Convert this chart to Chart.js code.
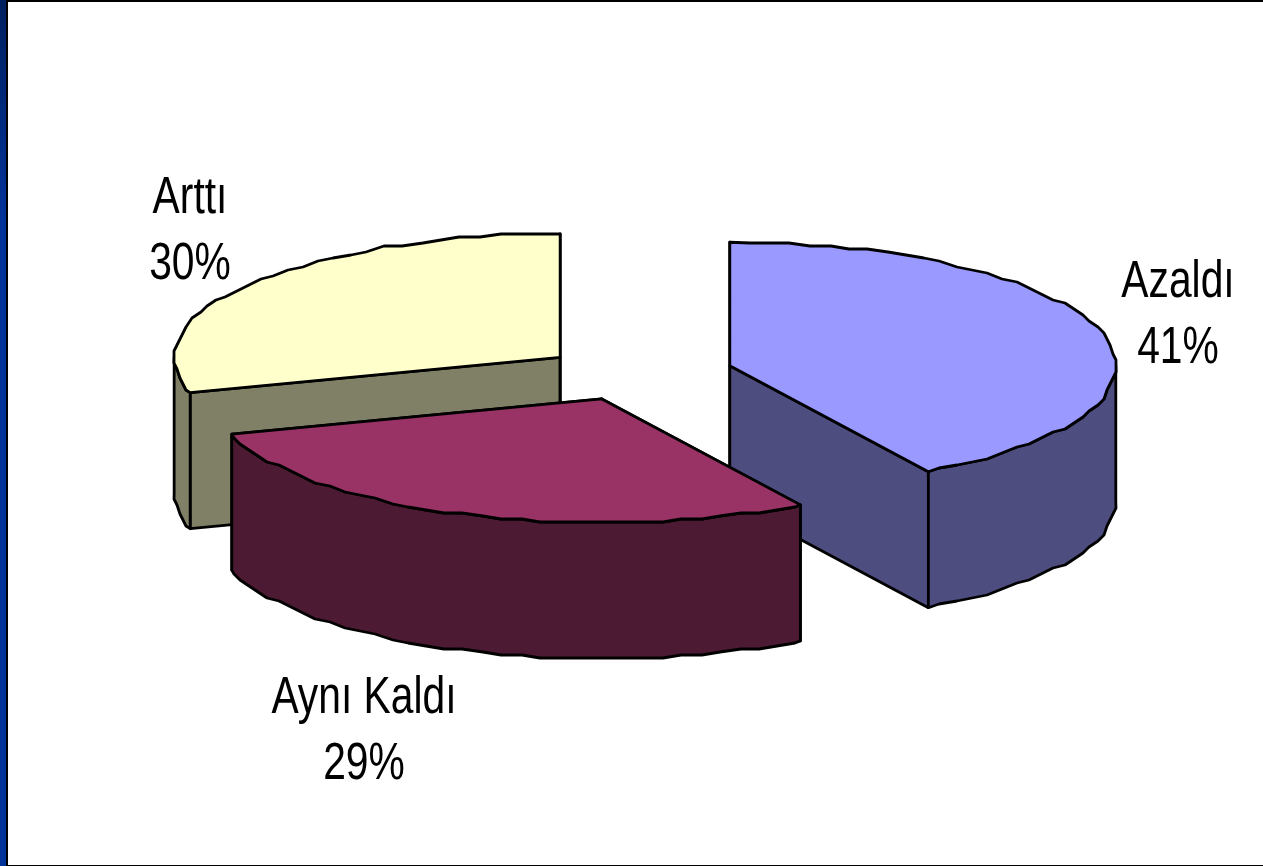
<!DOCTYPE html>
<html>
<head>
<meta charset="utf-8">
<title>Pie</title>
<script src="https://cdn.jsdelivr.net/npm/chart.js@4"></script>
<style>
  html, body { margin: 0; padding: 0; background: #fff; overflow: hidden; }
  #wrap { position: relative; width: 1263px; height: 866px; }
  #chart { position: absolute; left: 0; top: 0; }
  /* slide frame */
  #bar { position: absolute; left: 0; top: 0; width: 6px; height: 866px;
         background: linear-gradient(#00205f, #003399 25%); }
  #edgeL { position: absolute; left: 6px; top: 0; width: 2px; height: 866px; background: #000; }
  #edgeT { position: absolute; left: 6px; top: 0; width: 1257px; height: 2px; background: #000; }
  #edgeB { position: absolute; left: 6px; top: 865px; width: 1257px; height: 1px; background: #000; }
</style>
</head>
<body>
<div id="wrap">
  <canvas id="chart" width="1263" height="866"></canvas>
  <div id="bar"></div><div id="edgeL"></div><div id="edgeT"></div><div id="edgeB"></div>
</div>
<script>
// Data
const categories = ['Azaldı', 'Aynı Kaldı', 'Arttı'];
const percentValues = [41.4, 29, 29.6];
const topColors = ['#9999FF', '#993366', '#FFFFCC'];
const sideColors = ['#4D4D80', '#4D1A33', '#808066'];
const explodeOffsets = [102, 82, 89];

// Fake 3D look
const tilt = 0.32;
const depth = 136;
const paintOrder = [2, 0, 1]; // back slice first

// Label centres and first baselines
const labelX = [1178, 364, 190];
const labelY = [297, 713, 213];
const labelLineGap = 66;

// Outline is coarse in the original, snap it to a small grid
function snap(v) {
  return Math.round(v / 3) * 3;
}

// same angle grid for every call, so top rim and wall line up
function ringPoints(c, r, from, to) {
  const step = Math.PI / 60;
  const angles = [from];
  for (let k = Math.floor(from / step) + 1; k * step < to; k++) {
    angles.push(k * step);
  }
  angles.push(to);
  return angles.map((a, i) => {
    const x = c.x + Math.cos(a) * r;
    const y = c.y + Math.sin(a) * r * tilt;
    if (i === 0 || i === angles.length - 1) {
      return { x, y };
    }
    return { x: snap(x), y: snap(y) };
  });
}

function fillPath(ctx, pts, fill) {
  ctx.beginPath();
  pts.forEach((p, i) => (i ? ctx.lineTo(p.x, p.y) : ctx.moveTo(p.x, p.y)));
  ctx.closePath();
  ctx.fillStyle = fill;
  ctx.fill();
  ctx.stroke();
}

function down(p) {
  return { x: p.x, y: p.y + depth };
}

const pie3d = {
  id: 'pie3d',
  // the library computed the arcs, we only paint them tilted
  beforeDatasetDraw(chart, args) {
    const ctx = chart.ctx;
    ctx.save();
    ctx.strokeStyle = '#000';
    ctx.lineWidth = 2.8;
    ctx.lineJoin = 'round';
    paintOrder.forEach((i) => {
      const arc = args.meta.data[i];
      const start = arc.startAngle;
      const end = arc.endAngle;
      const mid = (start + end) / 2;
      const c = {
        x: arc.x + Math.cos(mid) * explodeOffsets[i],
        y: arc.y + Math.sin(mid) * explodeOffsets[i] * tilt,
      };
      const rim = ringPoints(c, arc.outerRadius, start, end);
      const first = rim[0];
      const last = rim[rim.length - 1];

      // cut faces
      fillPath(ctx, [c, first, down(first), down(c)], sideColors[i]);
      fillPath(ctx, [c, last, down(last), down(c)], sideColors[i]);

      // outer wall, front half only
      const from = Math.max(start, 0);
      const to = Math.min(end, Math.PI);
      if (to > from) {
        const wall = ringPoints(c, arc.outerRadius, from, to);
        fillPath(ctx, wall.concat(wall.map(down).reverse()), sideColors[i]);
      }

      // top face
      fillPath(ctx, [c].concat(rim), topColors[i]);
    });
    ctx.restore();
    return false;
  },
  afterDraw(chart) {
    const ctx = chart.ctx;
    ctx.save();
    ctx.fillStyle = '#000';
    ctx.font = '51px "Liberation Sans"';
    ctx.textAlign = 'center';
    ctx.textBaseline = 'alphabetic';
    categories.forEach((name, i) => {
      const pct = Math.round(percentValues[i]) + '%';
      // type is squeezed sideways in the original
      ctx.save();
      ctx.translate(labelX[i], labelY[i]);
      ctx.scale(0.8, 1);
      ctx.fillText(name, 0, 0);
      ctx.fillText(pct, 0, labelLineGap);
      ctx.restore();
    });
    ctx.restore();
  },
};

new Chart(document.getElementById('chart'), {
  type: 'pie',
  data: {
    labels: categories,
    datasets: [{
      data: percentValues,
      backgroundColor: topColors,
      borderColor: '#000',
    }],
  },
  options: {
    responsive: false,
    animation: false,
    radius: 386,
    layout: { padding: { left: 0, right: 0, top: 0, bottom: 117 } },
    plugins: {
      legend: { display: false },
      tooltip: { enabled: false },
    },
  },
  plugins: [pie3d],
});
</script>
</body>
</html>
